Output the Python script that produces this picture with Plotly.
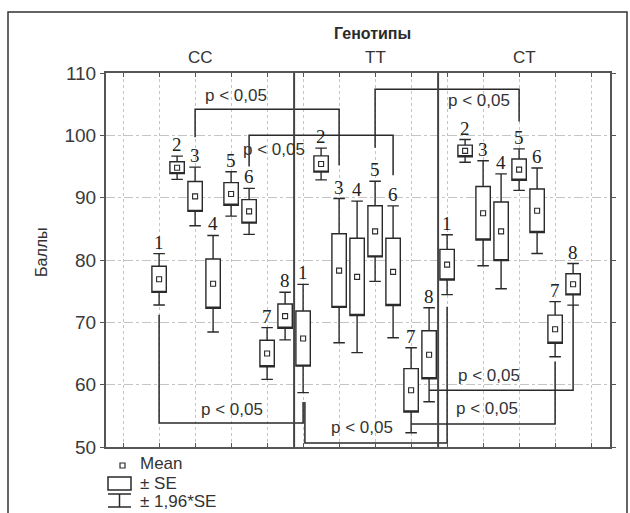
import plotly.graph_objects as go

# ---------------- data ----------------
groups = ["CC", "TT", "CT"]
box_labels = ["1", "2", "3", "4", "5", "6", "7", "8"]

cc_mean = [76.9, 94.8, 90.2, 76.2, 90.6, 87.8, 65.0, 71.0]
cc_se = [2.1, 0.95, 2.4, 3.95, 1.82, 1.88, 2.12, 1.95]
tt_mean = [67.4, 95.4, 78.3, 77.3, 84.6, 78.1, 59.1, 64.8]
tt_se = [4.43, 1.3, 5.9, 6.2, 4.1, 5.4, 3.48, 3.85]
ct_mean = [79.25, 97.5, 87.5, 84.6, 94.5, 87.9, 68.9, 76.1]
ct_se = [2.45, 0.93, 4.3, 4.7, 1.7, 3.5, 2.26, 1.7]

y_ticks = [50, 60, 70, 80, 90, 100, 110]
sig_text = "p < 0,05"

# ---------------- derived ----------------
means = cc_mean + tt_mean + ct_mean
ses = cc_se + tt_se + ct_se
n_per = len(box_labels)
pos = [g * n_per + i for g in range(len(groups)) for i in range(n_per)]
q1 = [m - s for m, s in zip(means, ses)]
q3 = [m + s for m, s in zip(means, ses)]
lf = [m - 1.96 * s for m, s in zip(means, ses)]
uf = [m + 1.96 * s for m, s in zip(means, ses)]

INK = "#2a2a2a"
TXT = "#333333"
SANS = "Liberation Sans, Arial, sans-serif"
SERIF = "Liberation Serif, Times New Roman, serif"

X_RANGE = [-2.95, 25.05]
L, R, T, B = 106, 20, 73, 66
W, H = 630, 513
PW, PH = W - L - R, H - T - B


def pxx(px):
    return (px - L) / PW


def pxy(py):
    return 1 - (py - T) / PH


fig = go.Figure()

fig.add_trace(go.Box(
    x=pos, q1=q1, median=q1, q3=q3, lowerfence=lf, upperfence=uf,
    width=0.8, whiskerwidth=0.8, fillcolor="white",
    line=dict(color=INK, width=1.4), boxpoints=False,
    hoverinfo="skip", showlegend=False,
))

fig.add_trace(go.Scatter(
    x=pos, y=means, mode="markers",
    marker=dict(symbol="square-open", size=5, color=INK, line=dict(width=1.1, color=INK)),
    hoverinfo="skip", showlegend=False,
))

# significance brackets: (from box, from end y, level y, to box, to end y, text x, text y)
brackets = [
    (2, 99.7, 104.2, 10, 95.2, 4.27, 106.4),
    (5, 95.0, 100.0, 13, 93.6, 6.38, 97.7),
    (12, 98.0, 107.4, 20, 102.2, 17.77, 105.6),
    (0, 71.2, 53.85, 8, 57.2, 4.05, 56.0),
    (8.1, 57.2, 50.64, 16, 72.5, 11.27, 53.1),
    (15, 59.1, 59.1, 23, 72.8, 18.33, 61.5),
    (14, 53.7, 53.7, 22, 63.7, 18.22, 56.2),
]
for a, ya, lvl, b, yb, tx, ty in brackets:
    fig.add_trace(go.Scatter(
        x=[a, a, b, b], y=[ya, lvl, lvl, yb], mode="lines",
        line=dict(color=INK, width=1.5), hoverinfo="skip", showlegend=False,
    ))

annotations = []
for p, u, lab in zip(pos, uf, box_labels * len(groups)):
    annotations.append(dict(
        x=p, y=u, xref="x", yref="y", text=lab, showarrow=False,
        yanchor="bottom", xanchor="center", yshift=-1,
        font=dict(family=SERIF, size=19, color="#222222"),
    ))
for a, ya, lvl, b, yb, tx, ty in brackets:
    annotations.append(dict(
        x=tx, y=ty, xref="x", yref="y", text=sig_text, showarrow=False,
        xanchor="center", yanchor="middle",
        font=dict(family=SANS, size=17, color=TXT),
    ))

# panel labels and title
panel_x = [2.3, 12.0, 20.3]
for gx, g in zip(panel_x, groups):
    annotations.append(dict(
        x=gx, y=pxy(57), xref="x", yref="paper", text=g, showarrow=False,
        xanchor="center", yanchor="middle",
        font=dict(family=SANS, size=17, color=TXT),
    ))
annotations.append(dict(
    x=pxx(372), y=pxy(33), xref="paper", yref="paper", text="<b>Генотипы</b>",
    showarrow=False, xanchor="center", yanchor="middle",
    font=dict(family=SANS, size=16, color=INK),
))
annotations.append(dict(
    x=pxx(41), y=pxy(252), xref="paper", yref="paper", text="Баллы", textangle=-90,
    showarrow=False, xanchor="center", yanchor="middle",
    font=dict(family=SANS, size=16, color=TXT),
))

# legend texts
for ty, t in [(463, "Mean"), (483, "± SE"), (502, "± 1,96*SE")]:
    annotations.append(dict(
        x=pxx(138), y=pxy(ty), xref="paper", yref="paper", text=t, showarrow=False,
        xanchor="left", yanchor="middle", font=dict(family=SANS, size=17, color=TXT),
    ))

shapes = []
# panel separators
for sx in [7.5, 15.5]:
    shapes.append(dict(type="line", xref="x", yref="paper", x0=sx, x1=sx, y0=0, y1=1,
                       line=dict(color="#444", width=2)))
# outer frame
shapes.append(dict(type="rect", xref="paper", yref="paper",
                   x0=pxx(8), x1=pxx(627), y0=pxy(530), y1=pxy(12),
                   line=dict(color="#333", width=1.5)))
# legend icons
shapes.append(dict(type="rect", xref="paper", yref="paper",
                   x0=pxx(120), x1=pxx(125), y0=pxy(468), y1=pxy(463),
                   line=dict(color=INK, width=1.2)))
shapes.append(dict(type="rect", xref="paper", yref="paper",
                   x0=pxx(108), x1=pxx(131), y0=pxy(490), y1=pxy(477),
                   line=dict(color=INK, width=1.5)))
for yy in [494, 507]:
    shapes.append(dict(type="line", xref="paper", yref="paper",
                       x0=pxx(108), x1=pxx(131), y0=pxy(yy), y1=pxy(yy),
                       line=dict(color=INK, width=1.5)))
shapes.append(dict(type="line", xref="paper", yref="paper",
                   x0=pxx(119.5), x1=pxx(119.5), y0=pxy(494), y1=pxy(507),
                   line=dict(color=INK, width=1.5)))

fig.update_layout(
    width=W, height=H,
    margin=dict(l=L, r=R, t=T, b=B),
    paper_bgcolor="white", plot_bgcolor="white",
    showlegend=False,
    annotations=annotations, shapes=shapes,
    xaxis=dict(
        range=X_RANGE, tickmode="array", tickvals=list(range(-2, 25, 2)),
        showticklabels=False, ticks="inside", ticklen=4, tickcolor="#555",
        showgrid=True, gridcolor="#c4c4c4", griddash="dot", gridwidth=1,
        zeroline=False, showline=True, linecolor="#555", linewidth=2, mirror="ticks",
    ),
    yaxis=dict(
        range=[50, 110], tickmode="array", tickvals=y_ticks,
        ticks="outside", ticklen=4, tickcolor="#555",
        tickfont=dict(family=SANS, size=19, color="#3a3a3a"),
        showgrid=True, gridcolor="#c4c4c4", griddash="dashdot", gridwidth=1,
        zeroline=False, showline=True, linecolor="#555", linewidth=2, mirror="ticks",
    ),
)

fig.write_html("out.html")
